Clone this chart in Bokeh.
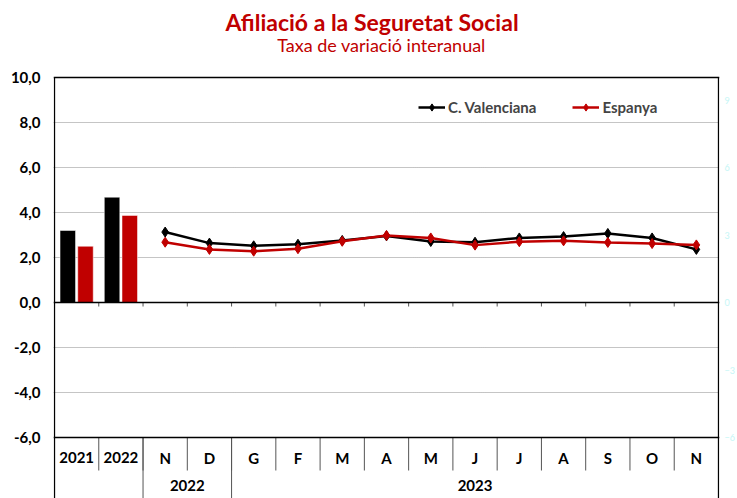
from bokeh.plotting import figure
from bokeh.models import (Range1d, LinearAxis, FixedTicker, CustomJSTickFormatter,
                          Span, Grid, Legend, LegendItem)
from bokeh.core.properties import value
from bokeh.embed import file_html
from bokeh.resources import INLINE

# ---------------- data ----------------
title_text = "Afiliació a la Seguretat Social"
subtitle_text = "Taxa de variació interanual"
categories = ["2021", "2022", "N", "D", "G", "F", "M", "A", "M", "J", "J", "A", "S", "O", "N"]
groups = ["", "2022", "2023"]
group_spans = [(0, 2), (2, 4), (4, 15)]
annual_cv = [3.20, 4.68]
annual_es = [2.50, 3.87]
monthly_cv = [3.13, 2.64, 2.52, 2.59, 2.76, 2.96, 2.71, 2.68, 2.87, 2.93, 3.07, 2.87, 2.36]
monthly_es = [2.68, 2.36, 2.28, 2.39, 2.72, 2.98, 2.87, 2.55, 2.70, 2.74, 2.67, 2.62, 2.56]
left_ticks = [-6, -4, -2, 0, 2, 4, 6, 8, 10]
right_ticks = [-6, -3, 0, 3, 6, 9]
grid_ticks = [-4, -2, 2, 4, 6, 8]

RED = "#c00000"
FONT = "Lato"

# ---------------- geometry ----------------
W, H = 737, 498
BL = 53                 # left border (frame starts 1px left of x=0)
TOP_PX = 77             # pixel row of y = 10
PX_X = 664 / 15.0
PX_Y = 22.5
FW = 666
FH = H
xpad = 1 / PX_X
ytop = 10 + TOP_PX / PX_Y
ybot = ytop - FH / PX_Y


def ypix(py):
    """data y for a pixel row of the page"""
    return ytop - py / PX_Y


def xpix(px):
    return (px - BL) / PX_X - xpad


p = figure(frame_width=FW, frame_height=FH, output_backend="svg", toolbar_location=None,
           x_axis_location=None, y_axis_location=None,
           x_range=Range1d(-xpad, -xpad + FW / PX_X), y_range=Range1d(ybot, ytop),
           min_border_left=BL, min_border_top=0, min_border_bottom=0,
           min_border_right=W - BL - FW,
           background_fill_color="white", border_fill_color="white")
p.outline_line_color = None
for g in p.grid:
    g.visible = False

# titles
p.text(x=[xpix(371.5)], y=[ypix(21.5)], text=[title_text], text_align="center",
       text_baseline="middle", text_color=RED, text_font=value(FONT),
       text_font_size="23px", text_font_style="bold")
p.text(x=[xpix(381)], y=[ypix(44)], text=[subtitle_text], text_align="center",
       text_baseline="middle", text_color=RED, text_font=value(FONT),
       text_font_size="18px", text_font_style="normal")

# left axis
la = LinearAxis(ticker=FixedTicker(ticks=left_ticks),
                formatter=CustomJSTickFormatter(code="return tick.toFixed(1).replace('.', ',')"))
la.axis_line_color = None
la.major_tick_line_color = None
la.minor_tick_line_color = None
la.major_tick_out = 0
la.major_tick_in = 0
la.major_label_standoff = 13
la.major_label_text_font = FONT
la.major_label_text_font_style = "bold"
la.major_label_text_font_size = "15px"
la.major_label_text_color = "black"
p.add_layout(la, "left")

# faint secondary scale on the right (cut by the window edge in the original)
ra = LinearAxis(ticker=FixedTicker(ticks=right_ticks))
ra.axis_line_color = None
ra.major_tick_line_color = None
ra.minor_tick_line_color = None
ra.major_tick_out = 0
ra.major_tick_in = 0
ra.major_label_standoff = 5
ra.major_label_text_font = FONT
ra.major_label_text_font_size = "9px"
ra.major_label_text_color = "#c6f6f6"
p.add_layout(ra, "right")

grid = Grid(dimension=1, ticker=FixedTicker(ticks=grid_ticks),
            grid_line_color="#8a8a8a", grid_line_dash="1 1", grid_line_width=1)
p.add_layout(grid)

# bars
bar_x = [i + 0.5 for i in range(len(annual_cv))]
p.vbar(x=[x - 0.2 for x in bar_x], top=annual_cv, bottom=0, width=0.35,
       fill_color="black", line_color="white", line_width=0.5)
p.vbar(x=[x + 0.2 for x in bar_x], top=annual_es, bottom=0, width=0.35,
       fill_color=RED, line_color="white", line_width=0.5)

# borders & zero line
for yv in (10, 0, -6):
    p.add_layout(Span(location=yv, dimension="width", line_color="black", line_width=1.3))
p.segment(x0=[0, 15], x1=[0, 15], y0=[10, 10], y1=[ybot, ybot],
          line_color="black", line_width=1.3)

# ticks on zero line
n = len(categories)
p.segment(x0=list(range(1, n)), x1=list(range(1, n)), y0=[0] * (n - 1),
          y1=[-4 / PX_Y] * (n - 1), line_color="#555555", line_width=1)

# lines
mx = [i + 0.5 for i in range(len(annual_cv), n)]
l1 = p.line(mx, monthly_cv, line_color="black", line_width=2.5)
s1 = p.scatter(mx, monthly_cv, marker="diamond", size=10, fill_color="black", line_color="black")
l2 = p.line(mx, monthly_es, line_color=RED, line_width=2.5)
s2 = p.scatter(mx, monthly_es, marker="diamond", size=10, fill_color=RED, line_color=RED)

leg = Legend(items=[LegendItem(label="C. Valenciana", renderers=[l1, s1]),
                    LegendItem(label="Espanya", renderers=[l2, s2])],
             orientation="horizontal", location=(418 - BL, H - 116),
             padding=0, margin=0, spacing=36, label_standoff=3,
             glyph_width=27, glyph_height=18, label_height=18,
             label_text_font=FONT, label_text_font_style="bold", label_text_font_size="15px",
             border_line_color=None, background_fill_alpha=0)
p.add_layout(leg, "center")

# category table below the plot area
row1_y = -6 - 20 / PX_Y
row2_y = -6 - 48 / PX_Y
sep1_bottom = -6 - 33 / PX_Y
cx = [i + 0.5 for i in range(n)]
p.text(x=cx, y=[row1_y] * n, text=categories, text_align="center", text_baseline="middle",
       text_font=value(FONT), text_font_style="bold", text_font_size="15px", text_color="black")
p.segment(x0=list(range(1, n)), x1=list(range(1, n)), y0=[-6] * (n - 1),
          y1=[sep1_bottom] * (n - 1), line_color="#555555", line_width=1)
gx = [(a + b) / 2 for a, b in group_spans]
p.text(x=gx, y=[row2_y] * len(groups), text=groups, text_align="center", text_baseline="middle",
       text_font=value(FONT), text_font_style="bold", text_font_size="15px", text_color="black")
inner = [b for a, b in group_spans[:-1]]
p.segment(x0=inner, x1=inner, y0=[-6] * len(inner), y1=[ybot] * len(inner),
          line_color="#555555", line_width=1)

open("out.html", "w").write(file_html(p, INLINE))
